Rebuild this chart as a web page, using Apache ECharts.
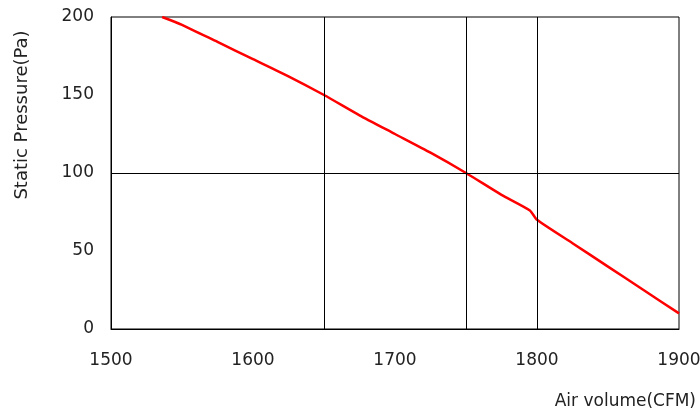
<!DOCTYPE html>
<html>
<head>
<meta charset="utf-8">
<script src="https://cdn.jsdelivr.net/npm/echarts@6/dist/echarts.min.js"></script>
<style>
  html, body { margin: 0; padding: 0; background: #fff; }
  #chart { width: 700px; height: 418px; }
</style>
</head>
<body>
<div id="chart"></div>
<script>
  // airflow (CFM) vs static pressure (Pa)
  const airVolume = [1536, 1550, 1575, 1600, 1625, 1650, 1675, 1700, 1725, 1750, 1775, 1795, 1800, 1825, 1850, 1875, 1900]
  const pressure = [200, 195, 184, 173, 162, 150, 137, 125, 113, 100, 86, 76, 70, 55, 40, 25, 10]
  // reference lines drawn in the plot
  const xRefLines = [1650, 1750, 1800]
  const yRefLines = [100]

  const fontFamily = 'DejaVu Sans'
  const textColor = '#222'

  let chart = echarts.init(document.getElementById('chart'))
  let option = {
    animation: false,
    grid: {
      left: 111,
      right: 21,
      top: 17,
      bottom: 89,
      outerBoundsMode: 'none',
      containLabel: false,
      show: true,
      borderColor: '#000',
      borderWidth: 1
    },
    xAxis: {
      type: 'value',
      min: 1500,
      max: 1900,
      interval: 100,
      name: 'Air volume(CFM)',
      nameLocation: 'end',
      nameGap: 17,
      nameTextStyle: {
        color: textColor,
        fontFamily: fontFamily,
        fontSize: 17,
        align: 'right',
        verticalAlign: 'top',
        padding: [64, 0, 0, 0]
      },
      axisLine: { lineStyle: { color: '#000', width: 1 } },
      axisTick: { show: false },
      splitLine: { show: false },
      axisLabel: {
        margin: 23,
        color: textColor,
        fontFamily: fontFamily,
        fontSize: 17,
        formatter: v => String(v)
      }
    },
    yAxis: {
      type: 'value',
      min: 0,
      max: 200,
      interval: 50,
      name: 'Static Pressure(Pa)',
      nameLocation: 'middle',
      nameGap: 80,
      nameTextStyle: {
        color: textColor,
        fontFamily: fontFamily,
        fontSize: 18,
        padding: [0, 0, 0, 116]
      },
      axisLine: { show: true, lineStyle: { color: '#000', width: 1 } },
      axisTick: { show: false },
      splitLine: { show: false },
      axisLabel: {
        margin: 17,
        color: textColor,
        fontFamily: fontFamily,
        fontSize: 17
      }
    },
    series: [
      {
        type: 'line',
        data: airVolume.map((x, i) => [x, pressure[i]]),
        smooth: 0.2,
        showSymbol: false,
        lineStyle: { color: '#ff0000', width: 2.5 },
        z: 3,
        markLine: {
          silent: true,
          symbol: 'none',
          label: { show: false },
          lineStyle: { color: '#000', type: 'solid', width: 1 },
          data: xRefLines.map(v => ({ xAxis: v })).concat(yRefLines.map(v => ({ yAxis: v })))
        }
      }
    ]
  }
  chart.setOption(option)
</script>
</body>
</html>
